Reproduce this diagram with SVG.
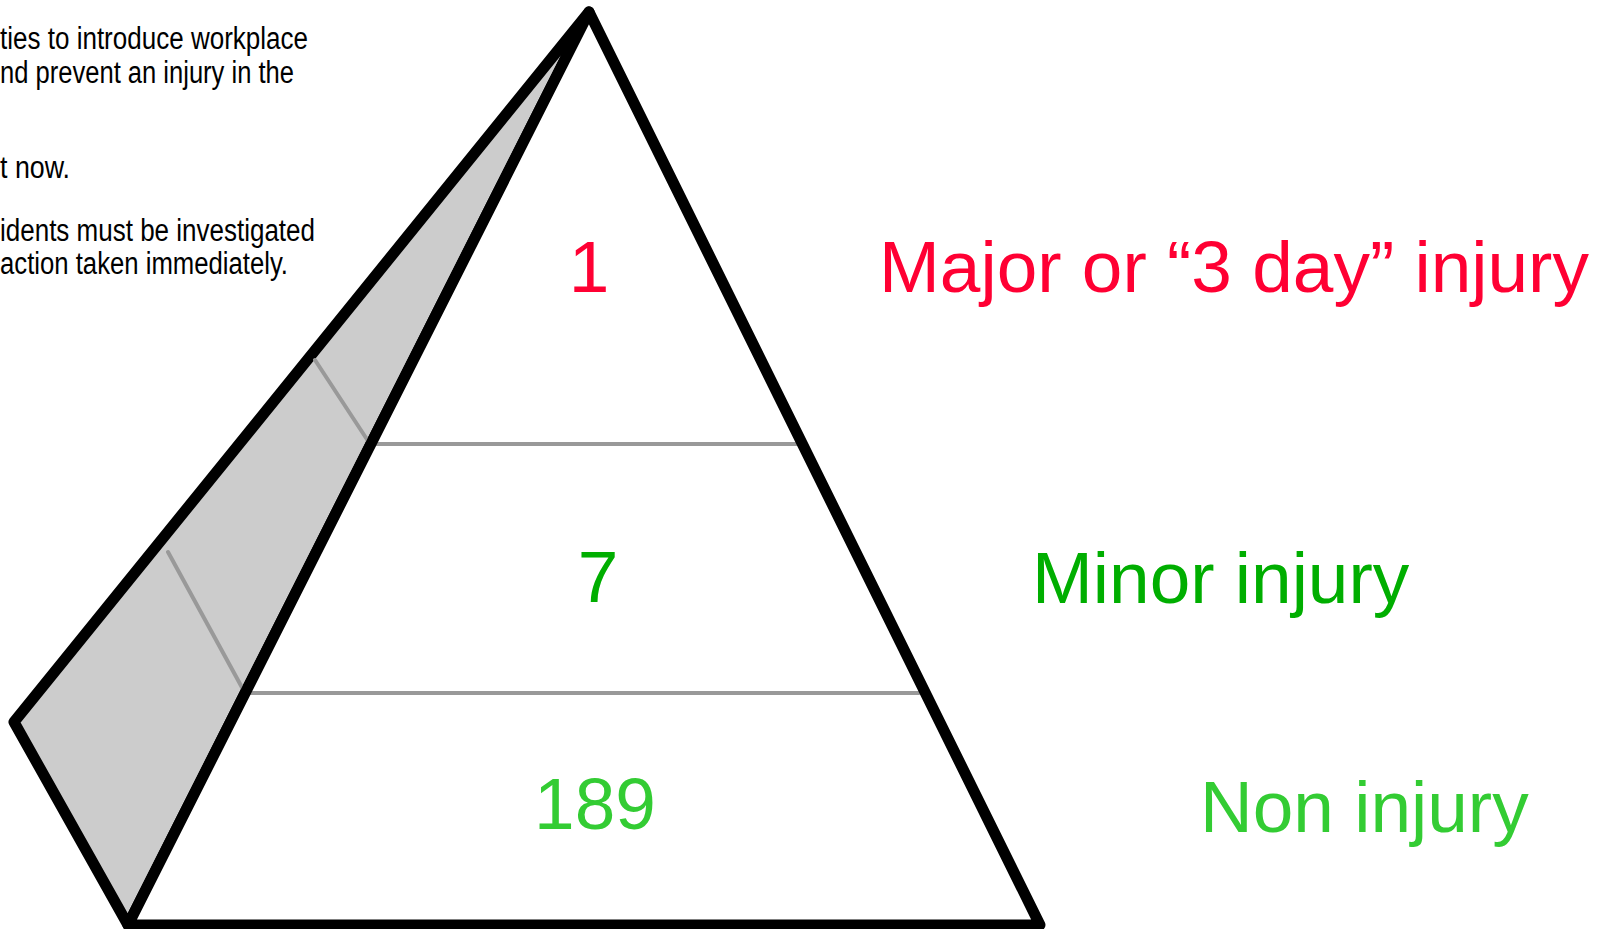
<svg xmlns="http://www.w3.org/2000/svg" width="1597" height="929" viewBox="0 0 1597 929">
  <style>
    .edge { stroke: #000000; stroke-width: 11; stroke-linejoin: round; stroke-linecap: round; }
    .divider { fill: none; stroke: #999999; stroke-width: 4; stroke-linejoin: round; stroke-linecap: round; }
    .big { font-family: "Liberation Sans", Arial, sans-serif; font-size: 73px; }
    .num { font-family: "Liberation Sans", Arial, sans-serif; font-size: 73px; text-anchor: middle; }
    .note { font-family: "Liberation Sans Narrow", "Liberation Sans", Arial, sans-serif; font-size: 31px; fill: #000000; }
    .red { fill: #FF0033; }
    .green { fill: #00AE00; }
    .lightgreen { fill: #33CC33; }
  </style>
  <rect x="0" y="0" width="1597" height="929" fill="#FFFFFF"/>

  <g id="notes">
    <text class="note" x="0" y="49" textLength="308" lengthAdjust="spacingAndGlyphs">ties to introduce workplace</text>
    <text class="note" x="0" y="83" textLength="294" lengthAdjust="spacingAndGlyphs">nd prevent an injury in the</text>
    <text class="note" x="0" y="178" textLength="70" lengthAdjust="spacingAndGlyphs">t now.</text>
    <text class="note" x="0" y="241" textLength="315" lengthAdjust="spacingAndGlyphs">idents must be investigated</text>
    <text class="note" x="0" y="274" textLength="288" lengthAdjust="spacingAndGlyphs">action taken immediately.</text>
  </g>

  <g id="pyramid">
    <polygon id="side-face" class="edge" points="589,12 14,722 128,925" fill="#CCCCCC"/>
    <polygon id="front-face-fill" points="589,12 128,925 1040,925" fill="#FFFFFF"/>
    <g id="dividers">
      <polyline class="divider" points="315,360 370,444 798,444"/>
      <polyline class="divider" points="168,552 245,693 919,693"/>
    </g>
    <polygon id="front-face" class="edge" points="589,12 128,925 1040,925" fill="none"/>
  </g>

  <g id="tier-top">
    <text class="num red" x="589" y="292">1</text>
    <text class="big red" x="879" y="292">Major or “3 day” injury</text>
  </g>
  <g id="tier-middle">
    <text class="num green" x="598" y="602">7</text>
    <text class="big green" x="1032" y="603">Minor injury</text>
  </g>
  <g id="tier-bottom">
    <text class="num lightgreen" x="595" y="829">189</text>
    <text class="big lightgreen" x="1200" y="832">Non injury</text>
  </g>
</svg>
